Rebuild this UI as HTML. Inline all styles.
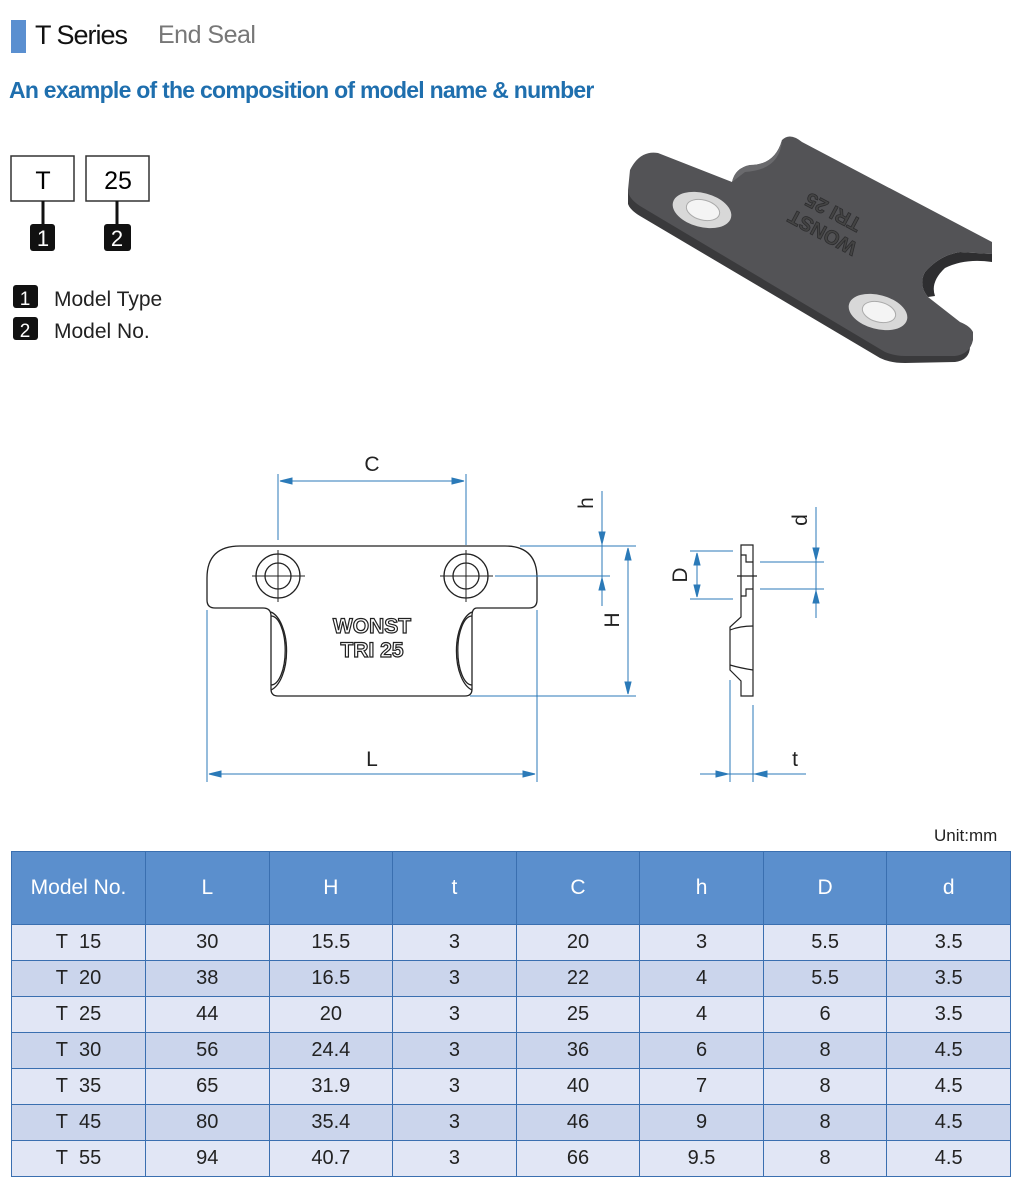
<!DOCTYPE html>
<html><head><meta charset="utf-8"><style>
body{margin:0;width:1018px;height:1192px;background:#fff;font-family:"Liberation Sans",sans-serif;position:relative;overflow:hidden}
.a{position:absolute}
table{position:absolute;left:11px;top:851px;border-collapse:collapse;width:1000px;font-size:20px;color:#222;table-layout:fixed}
td,th{border:1px solid #3a6fb0;text-align:center;padding:0}
th{background:#5b8fcd;color:#fff;font-weight:normal;height:72px;font-size:21px}
td{height:35px}
tr:nth-child(even) td{background:#e1e6f5}
tr:nth-child(odd) td{background:#cbd5ec}
</style></head><body>
<div class="a" style="left:11px;top:20px;width:15px;height:33px;background:#5a8fd0"></div>
<div class="a" style="left:35px;top:20px;font-size:27px;color:#111;letter-spacing:-1px">T Series</div>
<div class="a" style="left:158px;top:21px;font-size:25px;color:#777;letter-spacing:-0.5px">End Seal</div>
<div class="a" style="left:9px;top:77px;font-size:23px;color:#1f6fae;font-weight:bold;letter-spacing:-0.75px">An example of the composition of model name &amp; number</div>
<svg class="a" style="left:0;top:0" width="1018" height="820">
<g font-family="Liberation Sans" text-anchor="middle">
<rect x="11" y="156" width="63" height="45" fill="none" stroke="#333" stroke-width="1.5"/>
<rect x="86" y="156" width="63" height="45" fill="none" stroke="#333" stroke-width="1.5"/>
<text x="43" y="189" font-size="25">T</text><text x="118" y="189" font-size="25">25</text>
<line x1="43" y1="201" x2="43" y2="226" stroke="#111" stroke-width="3"/>
<line x1="117" y1="201" x2="117" y2="226" stroke="#111" stroke-width="3"/>
<rect x="30" y="224" width="25" height="27" rx="3" fill="#111"/><text x="43" y="246" font-size="22" fill="#fff">1</text>
<rect x="104" y="224" width="27" height="27" rx="3" fill="#111"/><text x="117" y="246" font-size="22" fill="#fff">2</text>
<rect x="13" y="285" width="25" height="23" rx="3" fill="#111"/><text x="25" y="305" font-size="19" fill="#fff">1</text>
<rect x="13" y="317" width="25" height="23" rx="3" fill="#111"/><text x="25" y="337" font-size="19" fill="#fff">2</text>
</g>
<text x="54" y="306" font-size="21" fill="#222">Model Type</text>
<text x="54" y="338" font-size="21" fill="#222">Model No.</text>
<!-- 3D part -->
<path d="M628 190 L628 204 Q630 210 640 216 L880 358 Q890 363 905 363 L955 362 Q970 360 970 346 L968 340 L950 352 Z" fill="#3a3a3c"/>
<path d="M658 153 Q640 150 630 170 L628 190 Q628 198 640 206 L885 352 Q895 356 905 356 L955 356 Q970 354 973 340 L973 332 Q970 326 960 322 L928 297 Q918 285 925 272 Q940 255 960 252 L992 254 L992 242 L802 142 Q790 132 782 140 Q775 165 750 165 Q735 168 732 182 Z" fill="#535356"/>
<path d="M782 140 Q780 170 745 172 L732 182 Q735 168 750 165 Q775 165 782 140Z" fill="#6a6a6d"/>
<path d="M992 254 L960 252 Q940 255 925 272 Q918 285 928 297 L935 296 Q930 282 945 268 Q965 258 992 262Z" fill="#2e2e30"/>
<ellipse cx="702" cy="210" rx="30" ry="17" fill="#d8d8d8" transform="rotate(15 702 210)"/>
<ellipse cx="703" cy="210" rx="17" ry="10" fill="#f4f4f4" stroke="#aaa" transform="rotate(15 703 210)"/>
<ellipse cx="878" cy="312" rx="30" ry="17" fill="#d8d8d8" transform="rotate(15 878 312)"/>
<ellipse cx="879" cy="312" rx="17" ry="10" fill="#f4f4f4" stroke="#aaa" transform="rotate(15 879 312)"/>
<g transform="translate(828 222) rotate(-152)" font-size="20" font-weight="bold" fill="#444" stroke="#2c2c2e" stroke-width="0.8" text-anchor="middle">
<text x="0" y="-5">WONST</text><text x="0" y="18">TRI 25</text></g>
<!-- front view -->
<g fill="none" stroke="#222" stroke-width="1.3">
<path d="M240 546 L505 546 Q537 546 537 578 L537 600 Q537 608 529 608 L477 608 Q472 608 472 616 L472 689 Q472 696 465 696 L278 696 Q271 696 271 689 L271 616 Q271 608 263 608 L215 608 Q207 608 207 600 L207 578 Q207 546 240 546 Z"/>
<circle cx="278" cy="576" r="22"/><circle cx="278" cy="576" r="13"/>
<circle cx="466" cy="576" r="22"/><circle cx="466" cy="576" r="13"/>
<path d="M271 612 A20 40 0 0 1 271 690"/><path d="M271 616 A14 34 0 0 1 271 685"/>
<path d="M472 612 A20 40 0 0 0 472 690"/><path d="M472 616 A14 34 0 0 0 472 685"/>
</g>
<g stroke="#222" stroke-width="1"><line x1="252" y1="576" x2="305" y2="576"/><line x1="278" y1="550" x2="278" y2="602"/><line x1="440" y1="576" x2="493" y2="576"/><line x1="466" y1="550" x2="466" y2="602"/></g>
<text x="372" y="633" font-size="21" font-weight="bold" fill="#fff" stroke="#222" stroke-width="1.2" text-anchor="middle">WONST</text>
<text x="372" y="657" font-size="21" font-weight="bold" fill="#fff" stroke="#222" stroke-width="1.2" text-anchor="middle">TRI 25</text>
<!-- dims -->
<g stroke="#2b7ab8" stroke-width="1" fill="#2b7ab8">
<line x1="278" y1="474" x2="278" y2="540"/><line x1="466" y1="474" x2="466" y2="545"/>
<line x1="280" y1="481" x2="464" y2="481"/>
<line x1="207" y1="610" x2="207" y2="782"/><line x1="537" y1="610" x2="537" y2="782"/>
<line x1="209" y1="774" x2="535" y2="774"/>
<line x1="520" y1="546" x2="636" y2="546"/><line x1="495" y1="576" x2="610" y2="576"/><line x1="470" y1="696" x2="636" y2="696"/>
<line x1="628" y1="548" x2="628" y2="694"/><line x1="602" y1="491" x2="602" y2="606"/>
<line x1="690" y1="551" x2="733" y2="551"/><line x1="690" y1="599" x2="733" y2="599"/><line x1="697" y1="553" x2="697" y2="597"/>
<line x1="760" y1="562" x2="824" y2="562"/><line x1="760" y1="589" x2="824" y2="589"/><line x1="816" y1="507" x2="816" y2="618"/>
<line x1="730" y1="680" x2="730" y2="782"/><line x1="753" y1="705" x2="753" y2="782"/>
<line x1="700" y1="774" x2="806" y2="774"/>
<path d="M280 481 l12 -3 v6z M464 481 l-12 -3 v6z M209 774 l12 -3 v6z M535 774 l-12 -3 v6z M628 548 l-3 12 h6z M628 694 l-3 -12 h6z M602 544 l-3 -12 h6z M602 578 l-3 12 h6z M697 553 l-3 12 h6z M697 597 l-3 -12 h6z M816 560 l-3 -12 h6z M816 591 l-3 12 h6z M728 774 l-12 -3 v6z M755 774 l12 -3 v6z"/>
</g>
<g fill="#222" font-size="21" text-anchor="middle"><text x="372" y="471">C</text><text x="372" y="766">L</text><text x="795" y="766">t</text>
<text transform="translate(593 503) rotate(-90)">h</text><text transform="translate(619 620) rotate(-90)">H</text>
<text transform="translate(687 575) rotate(-90)">D</text><text transform="translate(807 520) rotate(-90)">d</text></g>
<g fill="none" stroke="#222" stroke-width="1.2">
<path d="M741 545 H753 V696 H741 V681 L730 670 V627 L741 617 Z"/>
<path d="M741 555 H746 V562 H753 M741 596 H746 V589 H753 M730 630 Q740 626 753 626 M730 665 Q740 668 753 670"/>
<line x1="737" y1="576" x2="757" y2="576"/>
</g>
</svg>
<div class="a" style="left:934px;top:826px;font-size:17px;color:#222">Unit:mm</div>
<table>
<colgroup><col style="width:134px"><col><col><col><col><col><col><col></colgroup>
<tr><th>Model No.</th><th>L</th><th>H</th><th>t</th><th>C</th><th>h</th><th>D</th><th>d</th></tr>
<tr><td>T&nbsp;&nbsp;15</td><td>30</td><td>15.5</td><td>3</td><td>20</td><td>3</td><td>5.5</td><td>3.5</td></tr>
<tr><td>T&nbsp;&nbsp;20</td><td>38</td><td>16.5</td><td>3</td><td>22</td><td>4</td><td>5.5</td><td>3.5</td></tr>
<tr><td>T&nbsp;&nbsp;25</td><td>44</td><td>20</td><td>3</td><td>25</td><td>4</td><td>6</td><td>3.5</td></tr>
<tr><td>T&nbsp;&nbsp;30</td><td>56</td><td>24.4</td><td>3</td><td>36</td><td>6</td><td>8</td><td>4.5</td></tr>
<tr><td>T&nbsp;&nbsp;35</td><td>65</td><td>31.9</td><td>3</td><td>40</td><td>7</td><td>8</td><td>4.5</td></tr>
<tr><td>T&nbsp;&nbsp;45</td><td>80</td><td>35.4</td><td>3</td><td>46</td><td>9</td><td>8</td><td>4.5</td></tr>
<tr><td>T&nbsp;&nbsp;55</td><td>94</td><td>40.7</td><td>3</td><td>66</td><td>9.5</td><td>8</td><td>4.5</td></tr>
</table>
</body></html>
